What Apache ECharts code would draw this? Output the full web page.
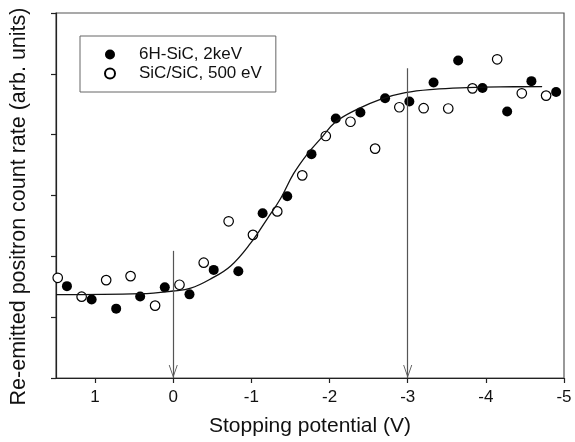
<!DOCTYPE html>
<html>
<head>
<meta charset="utf-8">
<script src="https://cdn.jsdelivr.net/npm/echarts@6/dist/echarts.min.js"></script>
<style>html,body{margin:0;padding:0;background:#fff}#c{width:575px;height:442px}</style>
</head>
<body>
<div id="c"></div>
<script>
// 6H-SiC, 2keV (filled)
const filledX = [1.36, 1.044, 0.73, 0.423, 0.108, -0.208, -0.518, -0.833, -1.144, -1.459, -1.769, -2.08, -2.395, -2.711, -3.021, -3.331, -3.646, -3.957, -4.273, -4.583, -4.899];
const filledY = [1.51, 1.29, 1.14, 1.34, 1.49, 1.375, 1.777, 1.756, 2.707, 2.989, 3.68, 4.267, 4.365, 4.598, 4.544, 4.859, 5.218, 4.766, 4.381, 4.88, 4.701];
// SiC/SiC, 500 eV (open)
const openX = [1.478, 1.172, 0.858, 0.546, 0.232, -0.08, -0.39, -0.709, -1.02, -1.331, -1.651, -1.952, -2.268, -2.583, -2.893, -3.204, -3.519, -3.829, -4.145, -4.46, -4.771];
const openY = [1.647, 1.337, 1.609, 1.675, 1.19, 1.533, 1.896, 2.576, 2.353, 2.739, 3.331, 3.978, 4.212, 3.771, 4.451, 4.435, 4.43, 4.761, 5.239, 4.68, 4.642];
// fitted curve
const fitX = [1.5, 0.414, 0.0, -0.224, -0.48, -0.735, -0.99, -1.207, -1.374, -1.54, -1.718, -1.884, -2.076, -2.357, -2.651, -2.97, -3.328, -3.762, -4.183, -4.72];
const fitY = [1.37, 1.386, 1.43, 1.476, 1.63, 1.842, 2.217, 2.625, 2.951, 3.359, 3.685, 3.93, 4.207, 4.419, 4.582, 4.691, 4.745, 4.773, 4.786, 4.789];
// vertical arrows
const arrowX = [0, -3];
const arrowTop = [2.09, 5.09];
const seriesNames = ['6H-SiC, 2keV', 'SiC/SiC, 500 eV'];

const FONT = 'Liberation Sans, Arial, Helvetica, sans-serif';
const chart = echarts.init(document.getElementById('c'), null, {renderer: 'canvas'});
chart.setOption({
  animation: false,
  backgroundColor: '#fff',
  grid: {left: 55, right: 11, top: 13, bottom: 61, show: true, borderColor: '#555', borderWidth: 1.2, backgroundColor: 'transparent'},
  legend: {
    data: seriesNames,
    orient: 'vertical',
    left: 80, top: 36,
    padding: [10, 14, 10, 24],
    itemWidth: 10, itemHeight: 10, itemGap: 2,
    borderColor: '#666', borderWidth: 1,
    textStyle: {fontSize: 17, color: '#111', fontFamily: FONT, padding: [0, 0, 0, 19]}
  },
  xAxis: {
    type: 'value', min: -5, max: 1.5, interval: 1, inverse: true,
    axisLine: {onZero: false, lineStyle: {color: '#222', width: 1.2}},
    axisTick: {length: 5, lineStyle: {color: '#222', width: 1.2}},
    axisLabel: {fontSize: 17, color: '#111', fontFamily: FONT, margin: 11, showMaxLabel: false,
      formatter: v => Number.isInteger(v) ? String(v) : ''},
    splitLine: {show: false},
    name: 'Stopping potential (V)', nameLocation: 'middle', nameGap: 38,
    nameTextStyle: {fontSize: 21, color: '#111', fontFamily: FONT}
  },
  yAxis: {
    type: 'value', min: 0, max: 6, interval: 1,
    axisLine: {onZero: false, lineStyle: {color: '#222', width: 1.2}},
    axisTick: {length: 5, lineStyle: {color: '#222', width: 1.2}},
    axisLabel: {show: false},
    splitLine: {show: false},
    name: 'Re-emitted positron count rate (arb. units)', nameLocation: 'middle', nameGap: 26,
    nameTextStyle: {fontSize: 21.5, color: '#111', fontFamily: FONT, padding: [0, 22, 0, 0]}
  },
  series: [
    {
      name: 'fit', type: 'line', smooth: 0.4, showSymbol: false, silent: true,
      data: fitX.map((x, i) => [x, fitY[i]]),
      lineStyle: {color: '#111', width: 1.3},
      markLine: {
        silent: true,
        symbol: ['none', 'path://M5,-13 L5.01,-13 L5,-13 Z M5,0 L10,13 L9,13 L5,2.6 L1,13 L0,13 Z'],
        symbolSize: [9, 26],
        label: {show: false},
        lineStyle: {color: '#555', width: 1.2, type: 'solid'},
        data: arrowX.map((x, i) => [{coord: [x, arrowTop[i]]}, {coord: [x, 0]}])
      }
    },
    {
      name: seriesNames[0], type: 'scatter', symbol: 'circle', symbolSize: 10,
      data: filledX.map((x, i) => [x, filledY[i]]),
      itemStyle: {color: '#000', opacity: 1}
    },
    {
      name: seriesNames[1], type: 'scatter', symbol: 'circle', symbolSize: 9.5,
      data: openX.map((x, i) => [x, openY[i]]),
      itemStyle: {color: '#fff', borderColor: '#000', borderWidth: 1.2, opacity: 1}
    }
  ]
});
</script>
</body>
</html>
